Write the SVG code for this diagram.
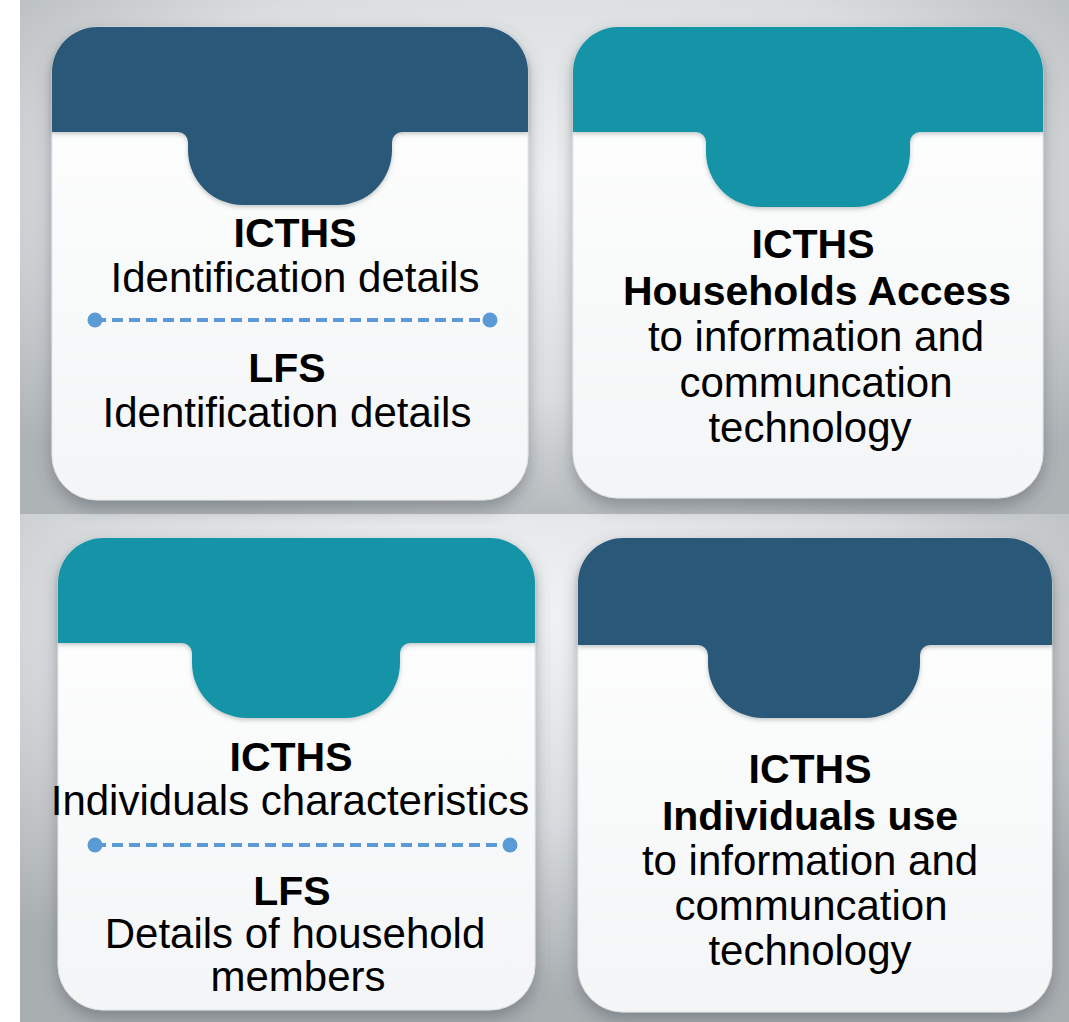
<svg xmlns="http://www.w3.org/2000/svg" width="1069" height="1022" viewBox="0 0 1069 1022">
  <defs>
    <radialGradient id="bgTop" cx="0.5" cy="0.35" r="0.7">
      <stop offset="0" stop-color="#eef0f1"/>
      <stop offset="0.6" stop-color="#dadddf"/>
      <stop offset="1" stop-color="#aeb3b6"/>
    </radialGradient>
    <radialGradient id="bgBot" cx="0.45" cy="0.2" r="0.75">
      <stop offset="0" stop-color="#f2f4f5"/>
      <stop offset="0.55" stop-color="#d8dbdd"/>
      <stop offset="1" stop-color="#a9aeb1"/>
    </radialGradient>
    <linearGradient id="body" x1="0" y1="0" x2="0" y2="1">
      <stop offset="0" stop-color="#ffffff"/>
      <stop offset="1" stop-color="#f3f5f6"/>
    </linearGradient>
    <filter id="shadow" x="-10%" y="-10%" width="120%" height="125%">
      <feDropShadow dx="0" dy="8" stdDeviation="8" flood-color="#4f585d" flood-opacity="0.45"/>
    </filter>
    <filter id="tabShadow" x="-10%" y="-10%" width="120%" height="130%">
      <feDropShadow dx="0" dy="2" stdDeviation="2" flood-color="#3b4448" flood-opacity="0.3"/>
    </filter>
  </defs>
  <style>
    .body { fill: url(#body); stroke: #e3e6e8; stroke-width: 1; }
    .dark { fill: #2c5878; }
    .teal { fill: #1594a7; }
    text { font-family: "Liberation Sans", Arial, sans-serif; fill: #000; text-anchor: middle; }
    .b { font-weight: bold; font-size: 41px; }
    .r { font-size: 42px; }
    .dash { stroke: #5b9bd5; stroke-width: 4; stroke-dasharray: 11 6; fill: none; }
    .dot { fill: #5b9bd5; }
  </style>

  <rect x="0" y="0" width="1069" height="1022" fill="#ffffff"/>
  <rect x="20" y="0" width="1049" height="514" fill="url(#bgTop)"/>
  <rect x="20" y="514" width="1049" height="508" fill="url(#bgBot)"/>

  <g id="card-icths-lfs-identification">
    <rect class="body" x="52" y="27" width="476" height="473" rx="45" filter="url(#shadow)"/>
    <path class="dark" filter="url(#tabShadow)" d="M52,132 V72 A45,45 0 0 1 97,27 H483 A45,45 0 0 1 528,72 V132 H402 A10,10 0 0 0 392,142 V150 A55,55 0 0 1 337,205 H243 A55,55 0 0 1 188,150 V142 A10,10 0 0 0 178,132 Z"/>
    <text class="b" x="295" y="247">ICTHS</text>
    <text class="r" x="295" y="292">Identification details</text>
    <text class="b" x="287" y="382">LFS</text>
    <text class="r" x="287" y="427">Identification details</text>
  </g>

  <g id="card-households-access">
    <rect class="body" x="573" y="27" width="470" height="471" rx="45" filter="url(#shadow)"/>
    <path class="teal" filter="url(#tabShadow)" d="M573,132 V72 A45,45 0 0 1 618,27 H998 A45,45 0 0 1 1043,72 V132 H920 A10,10 0 0 0 910,142 V152 A55,55 0 0 1 855,207 H761 A55,55 0 0 1 706,152 V142 A10,10 0 0 0 696,132 Z"/>
    <text class="b" x="813" y="258">ICTHS</text>
    <text class="b" x="817" y="305">Households Access</text>
    <text class="r" x="816" y="351">to information and</text>
    <text class="r" x="816" y="397">communcation</text>
    <text class="r" x="810" y="442">technology</text>
  </g>

  <g id="card-individuals-characteristics">
    <rect class="body" x="58" y="538" width="477" height="472" rx="45" filter="url(#shadow)"/>
    <path class="teal" filter="url(#tabShadow)" d="M58,643 V583 A45,45 0 0 1 103,538 H490 A45,45 0 0 1 535,583 V643 H410 A10,10 0 0 0 400,653 V663 A55,55 0 0 1 345,718 H247 A55,55 0 0 1 192,663 V653 A10,10 0 0 0 182,643 Z"/>
    <text class="b" x="291" y="771">ICTHS</text>
    <text class="r" x="290" y="815">Individuals characteristics</text>
    <text class="b" x="292" y="905">LFS</text>
    <text class="r" x="295" y="948">Details of household</text>
    <text class="r" x="298" y="991">members</text>
  </g>

  <g id="card-individuals-use">
    <rect class="body" x="578" y="538" width="474" height="474" rx="45" filter="url(#shadow)"/>
    <path class="dark" filter="url(#tabShadow)" d="M578,645 V583 A45,45 0 0 1 623,538 H1007 A45,45 0 0 1 1052,583 V645 H930 A10,10 0 0 0 920,655 V663 A55,55 0 0 1 865,718 H763 A55,55 0 0 1 708,663 V655 A10,10 0 0 0 698,645 Z"/>
    <text class="b" x="810" y="783">ICTHS</text>
    <text class="b" x="810" y="830">Individuals use</text>
    <text class="r" x="810" y="875">to information and</text>
    <text class="r" x="811" y="920">communcation</text>
    <text class="r" x="810" y="965">technology</text>
  </g>

  <g id="connectors">
    <line class="dash" x1="95" y1="320" x2="490" y2="320"/>
    <circle class="dot" cx="95" cy="320" r="7.5"/>
    <circle class="dot" cx="490" cy="320" r="7.5"/>
    <line class="dash" x1="95" y1="845" x2="510" y2="845"/>
    <circle class="dot" cx="95" cy="845" r="7.5"/>
    <circle class="dot" cx="510" cy="845" r="7.5"/>
  </g>
</svg>
